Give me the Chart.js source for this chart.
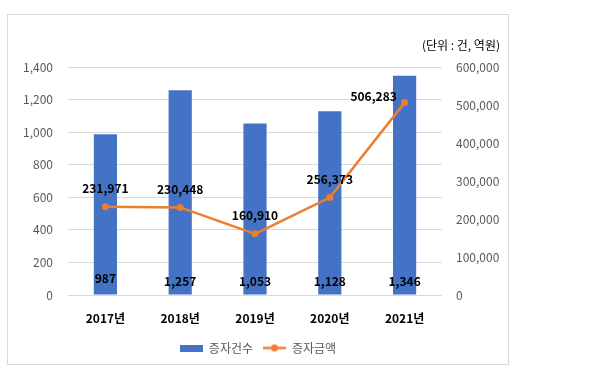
<!DOCTYPE html>
<html>
<head>
<meta charset="utf-8">
<script src="https://cdn.jsdelivr.net/npm/chart.js@4"></script>
<style>
html,body{margin:0;padding:0;background:#fff;}
#frame{position:absolute;left:7px;top:14px;width:500px;height:349px;border:1px solid #d9d9d9;background:#fff;}
#c{display:block;}
</style>
</head>
<body>
<div id="frame"><canvas id="c" width="500" height="349"></canvas></div>
<script>
const categories = ['2017년','2018년','2019년','2020년','2021년'];
const countValues = [987, 1257, 1053, 1128, 1346];
const amountValues = [231971, 230448, 160910, 256373, 506283];
const seriesNames = ['증자건수','증자금액'];
const unitText = '(단위 : 건, 역원)';

const FONT = "'Noto Sans CJK KR', 'Noto Sans', sans-serif";
const BLUE = '#4472C4';
const ORANGE = '#ED7D31';
const GREY = '#595959';

function fmt(v){ return v.toLocaleString('en-US'); }

function makeBarIcon(){
  const c = document.createElement('canvas'); c.width = 23; c.height = 7;
  const x = c.getContext('2d'); x.fillStyle = BLUE; x.fillRect(0,0,23,7); return c;
}
function makeLineIcon(){
  const c = document.createElement('canvas'); c.width = 23; c.height = 9;
  const x = c.getContext('2d'); x.strokeStyle = ORANGE; x.lineWidth = 2.5;
  x.beginPath(); x.moveTo(0,4.5); x.lineTo(23,4.5); x.stroke();
  x.fillStyle = ORANGE; x.beginPath(); x.arc(11.5,4.5,3.5,0,Math.PI*2); x.fill(); return c;
}
const barIcon = makeBarIcon();
const lineIcon = makeLineIcon();

const labelsPlugin = {
  id: 'valueLabels',
  afterDatasetsDraw(chart){
    const ctx = chart.ctx;
    ctx.save();
    ctx.font = 'bold 12px ' + FONT;
    ctx.fillStyle = '#000';
    ctx.textAlign = 'center';
    ctx.textBaseline = 'middle';
    const y0 = chart.scales.y.getPixelForValue(0);
    chart.getDatasetMeta(0).data.forEach((el, i) => {
      const dy = i === 0 ? 17 : 14;
      ctx.fillText(fmt(countValues[i]), el.x, y0 - dy);
    });
    chart.getDatasetMeta(1).data.forEach((el, i) => {
      if (i === amountValues.length - 1) {
        ctx.fillText(fmt(amountValues[i]), el.x - 31, el.y - 6);
      } else {
        ctx.fillText(fmt(amountValues[i]), el.x, el.y - 18);
      }
    });
    ctx.font = '12px ' + FONT;
    ctx.fillStyle = '#000';
    ctx.textAlign = 'right';
    ctx.fillText(unitText, 492, 30);
    ctx.restore();
  }
};

new Chart(document.getElementById('c'), {
  type: 'bar',
  data: {
    labels: categories,
    datasets: [
      {
        type: 'bar', label: seriesNames[0], data: countValues,
        backgroundColor: BLUE, yAxisID: 'y', order: 2,
        categoryPercentage: 1.0, barPercentage: 0.31
      },
      {
        type: 'line', label: seriesNames[1], data: amountValues,
        borderColor: ORANGE, backgroundColor: ORANGE, borderWidth: 2.5,
        pointRadius: 3.5, pointBackgroundColor: ORANGE, pointBorderWidth: 0,
        yAxisID: 'y1', order: 1, tension: 0
      }
    ]
  },
  options: {
    responsive: false,
    animation: false,
    devicePixelRatio: 1,
    layout: { padding: { top: 52, left: 0, right: 0, bottom: 0 } },
    plugins: {
      tooltip: { enabled: false },
      legend: {
        position: 'bottom',
        labels: {
          usePointStyle: true,
          pointStyleWidth: 23,
          boxHeight: 12,
          padding: 10,
          color: GREY,
          font: { family: FONT, size: 12 },
          generateLabels(){
            return [
              { text: seriesNames[0], pointStyle: barIcon, fillStyle: BLUE, strokeStyle: BLUE, lineWidth: 0, datasetIndex: 0, hidden: false, fontColor: GREY },
              { text: seriesNames[1], pointStyle: lineIcon, fillStyle: ORANGE, strokeStyle: ORANGE, lineWidth: 0, datasetIndex: 1, hidden: false, fontColor: GREY }
            ];
          }
        }
      }
    },
    scales: {
      x: {
        grid: { display: false, drawTicks: false },
        border: { display: false },
        ticks: { color: '#000', padding: 16, font: { family: FONT, size: 12, weight: 'bold' } },
        afterFit(s){ s.height = 37; }
      },
      y: {
        position: 'left', min: 0, max: 1400,
        grid: { color: '#d9d9d9', drawTicks: false },
        border: { display: false },
        ticks: { stepSize: 200, color: GREY, padding: 15, font: { family: FONT, size: 12 }, callback: v => fmt(v) },
        afterFit(s){ s.width = 60; }
      },
      y1: {
        position: 'right', min: 0, max: 600000,
        grid: { display: false, drawTicks: false },
        border: { display: false },
        ticks: { stepSize: 100000, color: GREY, padding: 14, font: { family: FONT, size: 12 }, callback: v => fmt(v) },
        afterFit(s){ s.width = 66; }
      }
    }
  },
  plugins: [labelsPlugin]
});
</script>
</body>
</html>
